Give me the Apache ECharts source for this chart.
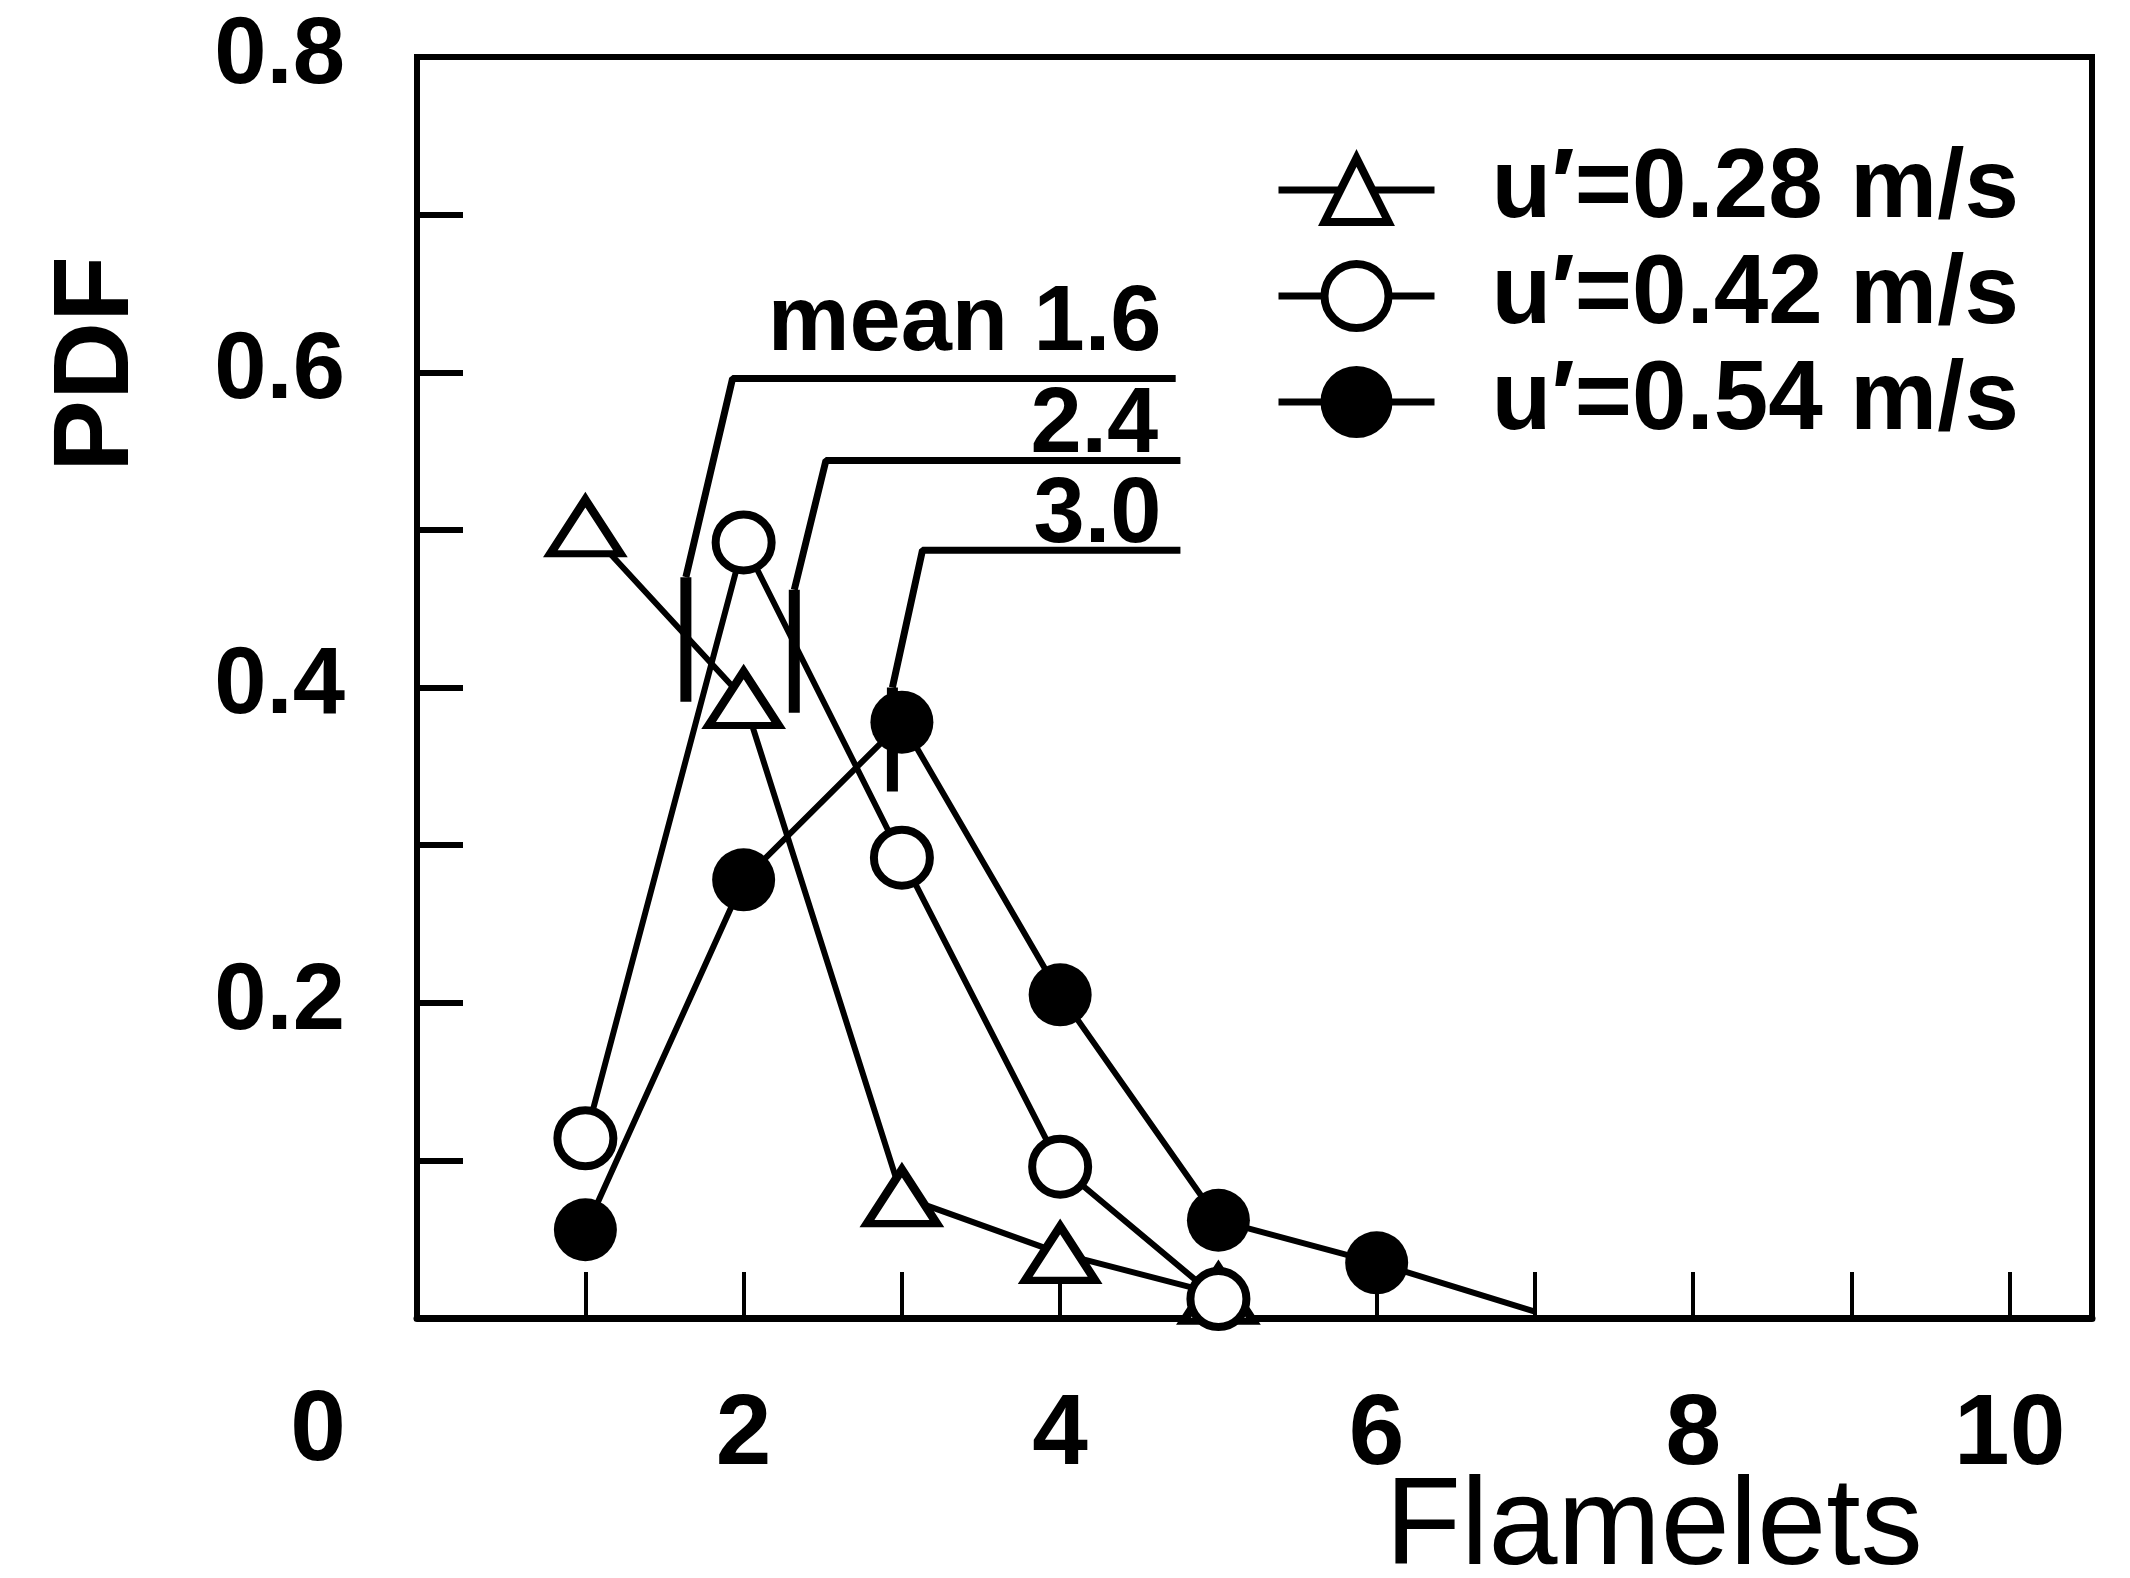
<!DOCTYPE html>
<html><head><meta charset="utf-8">
<script src="https://cdn.jsdelivr.net/npm/echarts@6/dist/echarts.min.js"></script>
<style>html,body{margin:0;padding:0;background:#fff}#c{width:2130px;height:1578px}</style>
</head><body><div id="c"></div>
<script>
// ---- data ----
const flamelets = [1, 2, 3, 4, 5, 6, 7];
const seriesNames = ['u\u2032=0.28 m/s', 'u\u2032=0.42 m/s', 'u\u2032=0.54 m/s'];
const pdfLow  = [0.502, 0.393, 0.077, 0.041, 0.015];
const pdfMid  = [0.114, 0.492, 0.292, 0.096, 0.012];
const pdfHigh = [0.056, 0.278, 0.378, 0.205, 0.062, 0.035, 0.004];
const xTicks = [1, 2, 3, 4, 5, 6, 7, 8, 9, 10];
const xTickLabels = [2, 4, 6, 8, 10];
const yTicks = [0.1, 0.2, 0.3, 0.4, 0.5, 0.6, 0.7];
const yTickLabels = [0.2, 0.4, 0.6, 0.8];
const originLabel = '0';
const xTitle = 'Flamelets';
const yTitle = 'PDF';
// mean annotations
const meanLabels = ['mean 1.6', '2.4', '3.0'];
const meanX = [1.635, 2.32, 2.94];
const meanBarLow = [0.391, 0.384, 0.334];
const meanBarHigh = [0.470, 0.462, 0.400];
const leaderCornerX = [1.93, 2.52, 3.13];
const leaderY = [0.596, 0.544, 0.487];
const leaderEndX = [4.73, 4.76, 4.76];
const meanTextX = [4.64, 4.62, 4.64];

// ---- chart ----
const chart = echarts.init(document.getElementById('c'), null, {renderer: 'canvas'});
const numFont = '"Liberation Sans Narrow", "Liberation Sans", Arial, sans-serif';
const txtFont = '"Liberation Sans", Arial, sans-serif';
const BLACK = '#000';

const series = [
  {
    name: seriesNames[0], type: 'line', z: 5,
    data: pdfLow.map((v, i) => [flamelets[i], v]),
    symbol: 'triangle', symbolSize: [70, 54],
    lineStyle: {color: BLACK, width: 6},
    itemStyle: {color: '#fff', borderColor: BLACK, borderWidth: 8},
    emphasis: {disabled: true}
  },
  {
    name: seriesNames[1], type: 'line', z: 5,
    data: pdfMid.map((v, i) => [flamelets[i], v]),
    symbol: 'circle', symbolSize: 56,
    lineStyle: {color: BLACK, width: 6},
    itemStyle: {color: '#fff', borderColor: BLACK, borderWidth: 8},
    emphasis: {disabled: true}
  },
  {
    name: seriesNames[2], type: 'line', z: 5,
    data: pdfHigh.map((v, i) => (i === pdfHigh.length - 1
      ? {value: [flamelets[i], v], symbol: 'none'}
      : [flamelets[i], v])),
    symbol: 'circle', symbolSize: 63,
    lineStyle: {color: BLACK, width: 6},
    itemStyle: {color: BLACK, borderColor: BLACK, borderWidth: 0},
    emphasis: {disabled: true}
  }
];

// mean bars and leader lines
meanX.forEach((mx, i) => {
  series.push({
    type: 'line', z: 3, silent: true, symbol: 'none',
    data: [[mx, meanBarLow[i]], [mx, meanBarHigh[i]]],
    lineStyle: {color: BLACK, width: 11}
  });
  series.push({
    type: 'line', z: 3, silent: true, symbol: 'none',
    data: [[mx, meanBarHigh[i]], [leaderCornerX[i], leaderY[i]], [leaderEndX[i], leaderY[i]]],
    lineStyle: {color: BLACK, width: 7}
  });
});
// mean text labels
series.push({
  type: 'scatter', z: 6, silent: true, symbolSize: 0,
  itemStyle: {opacity: 1},
  data: meanLabels.map((t, i) => ({
    value: [meanTextX[i], leaderY[i]], name: t,
    label: {distance: i === 0 ? 8 : -12}
  })),
  label: {
    show: true, position: 'top', align: 'right', opacity: 1,
    formatter: p => p.name,
    fontFamily: txtFont, fontWeight: 'bold', fontSize: 92, color: BLACK
  }
});

const option = {
  backgroundColor: '#fff',
  animation: false,
  grid: {
    left: 417, right: 38, top: 57, bottom: 260,
    show: true, borderColor: BLACK, borderWidth: 6, backgroundColor: 'transparent'
  },
  legend: {
    orient: 'vertical', left: 1270, top: 136,
    itemWidth: 156, itemHeight: 80, itemGap: 8,
    data: seriesNames,
    lineStyle: {color: BLACK, width: 7},
    itemStyle: {borderColor: BLACK, borderWidth: 8},
    textStyle: {fontFamily: txtFont, fontWeight: 'bold', fontSize: 98, color: BLACK, padding: [0, 0, 0, 52]},
    selectedMode: false
  },
  xAxis: {
    type: 'value', min: -0.064, max: 10.52,
    axisLine: {show: true, onZero: false, lineStyle: {color: BLACK, width: 7}},
    axisTick: {show: true, inside: true, length: 46, customValues: xTicks, lineStyle: {color: BLACK, width: 4}},
    axisLabel: {show: true, customValues: xTickLabels, margin: 68,
      fontFamily: numFont, fontWeight: 'bold', fontSize: 100, color: BLACK},
    splitLine: {show: false}
  },
  yAxis: {
    type: 'value', min: 0, max: 0.8,
    axisLine: {show: true, onZero: false, lineStyle: {color: BLACK, width: 5}},
    axisTick: {show: true, inside: true, length: 46, customValues: yTicks, lineStyle: {color: BLACK, width: 6}},
    axisLabel: {show: true, customValues: yTickLabels, margin: 72,
      formatter: v => v.toFixed(1),
      fontFamily: numFont, fontWeight: 'bold', fontSize: 94, color: BLACK},
    splitLine: {show: false}
  },
  graphic: [
    {type: 'text', x: 318, y: 1432,
      style: {text: originLabel, font: 'bold 100px ' + numFont, fill: BLACK, align: 'center', verticalAlign: 'middle'}},
    {type: 'text', x: 1654, y: 1530,
      style: {text: xTitle, font: '124px ' + txtFont, fill: BLACK, align: 'center', verticalAlign: 'middle'}},
    {type: 'text', x: 98, y: 364, rotation: Math.PI / 2,
      style: {text: yTitle, font: 'bold 108px ' + txtFont, fill: BLACK, align: 'center', verticalAlign: 'middle'}}
  ],
  series: series
};
chart.setOption(option);
</script>
</body></html>
